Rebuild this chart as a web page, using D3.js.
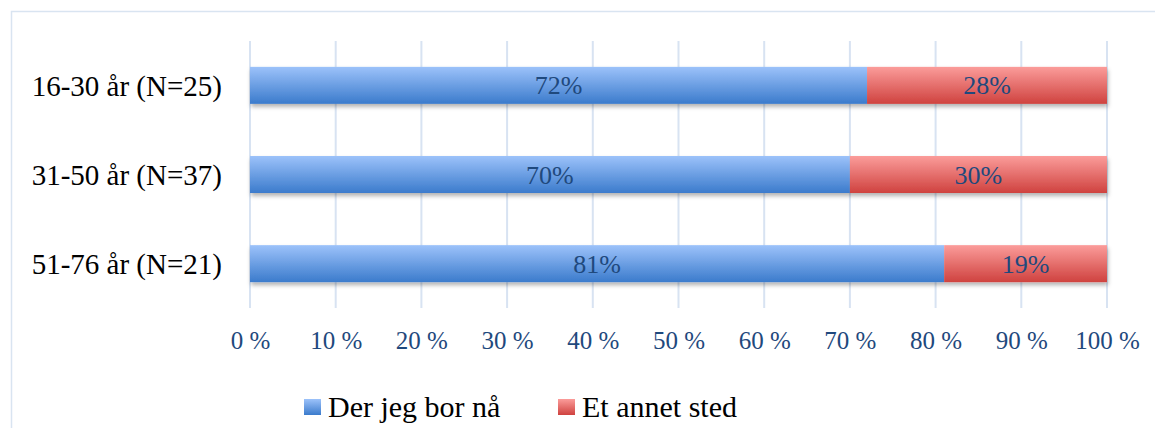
<!DOCTYPE html>
<html lang="no">
<head>
<meta charset="utf-8">
<title>Bosted</title>
<script src="https://d3js.org/d3.v7.min.js"></script>
<style>
  body { margin: 0; background: #fff; }
  text { font-family: "Liberation Serif", "DejaVu Serif", serif; }
  .grid line { stroke: #d8e3f2; stroke-width: 2px; }
  .xaxis text { fill: #1f497d; font-size: 25px; }
  .cat { fill: #000; font-size: 29px; }
  .val { fill: #1f497d; font-size: 26px; }
  .leg { fill: #000; font-size: 30px; }
</style>
</head>
<body>
<div id="chart"></div>
<script>
var categories = ["16-30 år (N=25)", "31-50 år (N=37)", "51-76 år (N=21)"];
var series = ["Der jeg bor nå", "Et annet sted"];
var hereVals = [72, 70, 81];
var elsewhereVals = [28, 30, 19];
var ticks = [0, 10, 20, 30, 40, 50, 60, 70, 80, 90, 100];

var width = 1155, height = 428;
var svg = d3.select("#chart").append("svg")
    .attr("width", width)
    .attr("height", height);

var defs = svg.append("defs");
function grad(id, top, bottom) {
  var g = defs.append("linearGradient").attr("id", id)
      .attr("x1", 0).attr("y1", 0).attr("x2", 0).attr("y2", 1);
  g.append("stop").attr("offset", "0%").attr("stop-color", top);
  g.append("stop").attr("offset", "100%").attr("stop-color", bottom);
}
grad("gBlue", "#9cc2fa", "#3b7bcc");
grad("gRed", "#fb9c9a", "#cf423f");
var f = defs.append("filter").attr("id", "shadow")
    .attr("x", "-5%").attr("y", "-20%").attr("width", "110%").attr("height", "160%");
f.append("feDropShadow").attr("dx", 1).attr("dy", 3).attr("stdDeviation", 2)
    .attr("flood-color", "#000").attr("flood-opacity", 0.3);

// chart frame
svg.append("rect")
    .attr("x", 11.5).attr("y", 11.5)
    .attr("width", 1160).attr("height", 430)
    .attr("fill", "none").attr("stroke", "#d9e4f1").attr("stroke-width", 1.5);

var x = d3.scaleLinear().domain([0, 100]).range([250, 1107]);
var y = d3.scaleBand().domain(categories).range([41, 308]).paddingInner(0.585).paddingOuter(0.29);

// gridlines
svg.append("g").attr("class", "grid")
  .selectAll("line").data(ticks).enter().append("line")
    .attr("x1", function(d) { return x(d); })
    .attr("x2", function(d) { return x(d); })
    .attr("y1", 41).attr("y2", 308);

// x axis labels
var xAxis = d3.axisBottom(x).tickValues(ticks)
    .tickFormat(function(d) { return d + " %"; })
    .tickSize(0).tickPadding(0);
var gx = svg.append("g").attr("class", "xaxis")
    .attr("transform", "translate(0,340)")
    .call(xAxis);
gx.select(".domain").remove();
gx.selectAll("text").attr("dy", "0.35em");

// category labels
svg.selectAll("text.cat").data(categories).enter().append("text")
    .attr("class", "cat")
    .attr("x", 222)
    .attr("y", function(d) { return y(d) + y.bandwidth() / 2; })
    .attr("dy", "0.35em")
    .attr("text-anchor", "end")
    .text(function(d) { return d; });

var rows = categories.map(function(c, i) {
  return { cat: c, a: hereVals[i], b: elsewhereVals[i] };
});

var bars = svg.append("g").selectAll("g").data(rows).enter().append("g")
    .attr("filter", "url(#shadow)");
bars.append("rect")
    .attr("x", x(0))
    .attr("y", function(d) { return y(d.cat); })
    .attr("width", function(d) { return x(d.a) - x(0); })
    .attr("height", y.bandwidth())
    .attr("fill", "url(#gBlue)");
bars.append("rect")
    .attr("x", function(d) { return x(d.a); })
    .attr("y", function(d) { return y(d.cat); })
    .attr("width", function(d) { return x(d.a + d.b) - x(d.a); })
    .attr("height", y.bandwidth())
    .attr("fill", "url(#gRed)");

var labels = svg.append("g");
rows.forEach(function(d) {
  labels.append("text").attr("class", "val")
      .attr("x", x(d.a / 2))
      .attr("y", y(d.cat) + y.bandwidth() / 2)
      .attr("dy", "0.35em").attr("text-anchor", "middle")
      .text(d.a + "%");
  labels.append("text").attr("class", "val")
      .attr("x", x(d.a + d.b / 2))
      .attr("y", y(d.cat) + y.bandwidth() / 2)
      .attr("dy", "0.35em").attr("text-anchor", "middle")
      .text(d.b + "%");
});

// legend
var legX = [304, 558];
var legFill = ["url(#gBlue)", "url(#gRed)"];
series.forEach(function(s, i) {
  svg.append("rect")
      .attr("x", legX[i]).attr("y", 399)
      .attr("width", 17).attr("height", 16)
      .attr("fill", legFill[i]);
  svg.append("text").attr("class", "leg")
      .attr("x", legX[i] + 24).attr("y", 417)
      .text(s);
});
</script>
</body>
</html>
